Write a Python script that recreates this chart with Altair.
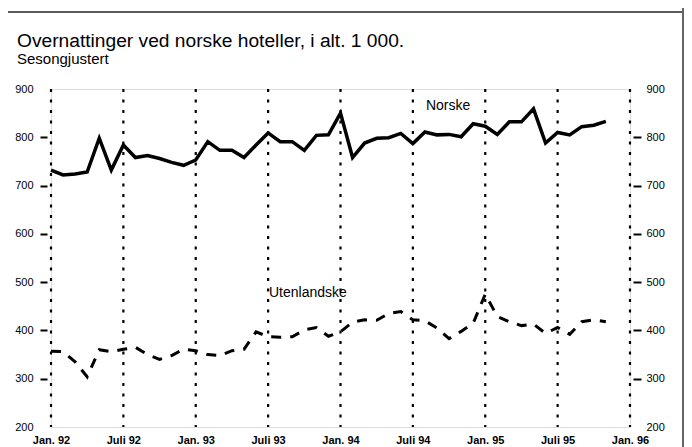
import altair as alt
import pandas as pd

# ---- data ----
months = pd.period_range("1992-01", "1995-11", freq="M").strftime("%Y-%m").tolist()

norske = [732, 722, 724, 728, 798, 732, 784, 758, 762, 756, 748, 742,
          753, 791, 773, 773, 758, 784, 809, 791, 791, 773, 804, 805,
          850, 758, 788, 798, 799, 808, 787, 811, 805, 806, 801, 828,
          823, 806, 832, 832, 859, 788, 810, 805, 822, 825, 833]

utenlandske = [357, 356, 335, 304, 360, 356, 361, 365, 350, 340, 348, 361,
               358, 350, 348, 358, 361, 397, 387, 386, 387, 401, 406, 388,
               397, 417, 422, 421, 435, 439, 422, 420, 405, 383, 398, 415,
               475, 429, 418, 410, 413, 394, 406, 392, 418, 422, 418]

tick_positions = [1992.0, 1992.5, 1993.0, 1993.5, 1994.0, 1994.5, 1995.0, 1995.5, 1996.0]
y_ticks = [200, 300, 400, 500, 600, 700, 800, 900]

label_text = ["Norske", "Utenlandske"]
label_t = [1994.743, 1993.506]
label_v = [864, 477]


def dec(m):
    y, mo = m.split("-")
    return int(y) + (int(mo) - 1) / 12


df = pd.DataFrame({"t": [dec(m) for m in months], "Norske": norske, "Utenlandske": utenlandske})
grid_df = pd.DataFrame({"t": tick_positions})
lab_df = pd.DataFrame({"t": label_t, "v": label_v, "label": label_text})

FONT = "Liberation Sans"

x_scale = alt.Scale(domain=[1992, 1996], nice=False, zero=False)
y_scale = alt.Scale(domain=[200, 900], nice=False, zero=False)

tick_cond = {"condition": {"test": "datum.value == 200 || datum.value == 900", "value": 0}, "value": 1}

x_axis = alt.Axis(
    values=tick_positions,
    labelExpr="(datum.value % 1 == 0 ? 'Jan. ' : 'Juli ') + (floor(datum.value) % 100)",
    ticks=False, domain=False, grid=False, labelFlush=False, labelOverlap=False,
    labelFont=FONT, labelFontWeight="bold", labelFontSize=11,
    labelPadding=7, labelColor="black", title=None,
)
y_left = alt.Axis(
    values=y_ticks, orient="left", offset=4, tickSize=7, tickWidth=2, tickColor="black",
    tickOpacity=tick_cond, labelPadding=7, labelFont=FONT, labelFontSize=11,
    labelColor="black", domain=False, grid=False, title=None,
)
y_right = alt.Axis(
    values=y_ticks, orient="right", offset=3, tickSize=8, tickWidth=2, tickColor="black",
    tickOpacity=tick_cond, labelPadding=5, labelFont=FONT, labelFontSize=11,
    labelColor="black", domain=False, grid=False, title=None,
)

X = alt.X("t:Q", scale=x_scale, axis=x_axis)

grid = alt.Chart(grid_df).mark_rule(color="black", strokeWidth=2.2, strokeDash=[3, 7.5]).encode(x=X)

line_n = alt.Chart(df).mark_line(color="black", strokeWidth=3.5, strokeJoin="miter").encode(
    x=X, y=alt.Y("Norske:Q", scale=y_scale, axis=y_left),
)
line_u = alt.Chart(df).mark_line(color="black", strokeWidth=3, strokeDash=[10, 9]).encode(
    x=X, y=alt.Y("Utenlandske:Q", scale=y_scale, axis=y_right),
)

txt_n = alt.Chart(lab_df[lab_df.label == "Norske"]).mark_text(
    align="center", baseline="middle", font=FONT, fontSize=14, color="black"
).encode(x=X, y=alt.Y("v:Q", scale=y_scale, axis=None), text="label:N")
txt_u = alt.Chart(lab_df[lab_df.label == "Utenlandske"]).mark_text(
    align="left", baseline="middle", font=FONT, fontSize=14, color="black"
).encode(x=X, y=alt.Y("v:Q", scale=y_scale, axis=None), text="label:N")

# page frame lines of the scanned report
frame_top = alt.Chart(grid_df.head(1)).mark_rect(color="#222", clip=False).encode(
    x=alt.value(-51), x2=alt.value(632), y=alt.value(-77.75), y2=alt.value(-76.25)
)
frame_right = alt.Chart(grid_df.head(1)).mark_rect(color="#666", clip=False).encode(
    x=alt.value(631), x2=alt.value(633), y=alt.value(-89), y2=alt.value(358)
)

chart = (
    alt.layer(grid, line_n, line_u, txt_n, txt_u, frame_top, frame_right)
    .resolve_axis(y="independent")
    .properties(
        width=579, height=338,
        autosize=alt.AutoSizeParams(type="none"),
        padding={"left": 43, "top": 81, "right": 54, "bottom": 20},
        title=alt.Title(
            text="Overnattinger ved norske hoteller, i alt. 1 000.",
            subtitle="Sesongjustert",
            anchor="start", frame="group", dx=-34, offset=0, dy=67,
            font=FONT, fontSize=19.2, fontWeight="normal", color="black",
            subtitleFont=FONT, subtitleFontSize=15, subtitleColor="black",
            subtitlePadding=1,
        ),
    )
    .configure_view(stroke=None)
    .configure(background="white")
)

chart.save("out.html", embed_options={"renderer": "svg", "actions": False})
